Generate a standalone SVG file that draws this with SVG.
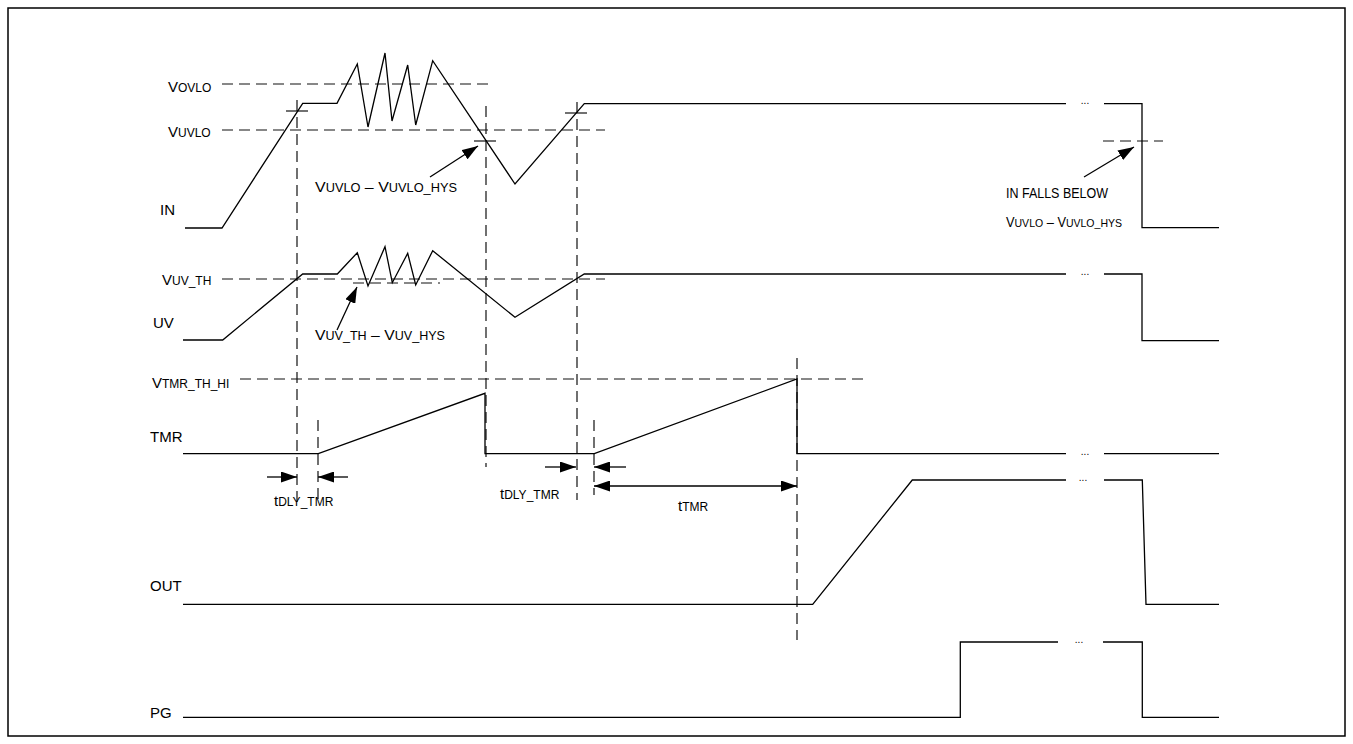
<svg xmlns="http://www.w3.org/2000/svg" width="1353" height="744" viewBox="0 0 1353 744">
<defs>
<marker id="ah" viewBox="0 0 16 11" markerUnits="userSpaceOnUse" markerWidth="16" markerHeight="11" refX="16" refY="5.5" orient="auto-start-reverse">
<path d="M0,0 L16,5.5 L0,11 z" fill="#000"/>
</marker>
</defs>
<style>
.w{fill:none;stroke:#000;stroke-width:1.3;stroke-linejoin:miter}
.d{fill:none;stroke:#111;stroke-width:1.2;stroke-dasharray:11 6}
.t{fill:none;stroke:#111;stroke-width:1.2}
.a{fill:none;stroke:#000;stroke-width:1.3;marker-end:url(#ah)}
.l{font-family:"Liberation Sans",Arial,sans-serif;font-size:15px;fill:#000}
.s{font-size:12px}
.r{font-size:14px}
.rs{font-size:11.5px}
.dots{font-family:"Liberation Sans",Arial,sans-serif;font-size:10px;fill:#000;text-anchor:middle}
</style>
<rect x="8" y="8" width="1337" height="728" fill="#fff" stroke="#000" stroke-width="1.5"/>

<g id="thresholds">
<line class="d" x1="222" y1="84" x2="492" y2="84"/>
<line class="d" x1="222" y1="130" x2="605" y2="130"/>
<line class="d" x1="222" y1="279" x2="605" y2="279"/>
<line class="d" x1="353" y1="283" x2="440" y2="283"/>
<line class="d" x1="240" y1="379" x2="868" y2="379"/>
<line class="d" x1="1103" y1="141" x2="1163" y2="141"/>
<line class="t" x1="286" y1="111" x2="308" y2="111"/>
<line class="t" x1="474" y1="141" x2="496" y2="141"/>
<line class="t" x1="565" y1="113" x2="587" y2="113"/>
</g>

<g id="markers">
<line class="d" x1="297" y1="100" x2="297" y2="502"/>
<line class="d" x1="318" y1="420" x2="318" y2="502"/>
<line class="d" x1="486" y1="106" x2="486" y2="467"/>
<line class="d" x1="577" y1="102" x2="577" y2="500"/>
<line class="d" x1="594" y1="420" x2="594" y2="495"/>
<line class="d" x1="797" y1="358" x2="797" y2="640"/>
</g>

<g id="sig-IN">
<text class="l" x="160" y="215">IN</text>
<text class="l" x="168" y="92">V<tspan class="s">OVLO</tspan></text>
<text class="l" x="168" y="137">V<tspan class="s">UVLO</tspan></text>
<polyline class="w" points="185,228 222,228 302.7,103.3 337,103.3 357.3,64 368,127 385,53 392,121 407.7,65 415.7,125 432.7,60.7 515,184 584.3,103.7 1066,103.7"/>
<text class="dots" x="1085" y="104">...</text>
<polyline class="w" points="1104,103.7 1142,103.7 1142,227.7 1219,227.7"/>
</g>

<g id="sig-UV">
<text class="l" x="153" y="328">UV</text>
<text class="l" x="162" y="285">V<tspan class="s">UV_TH</tspan></text>
<polyline class="w" points="183,340 222.7,340 302.7,274 337.3,274 357.3,252.7 368,286 385,246.7 392.3,282.7 407.7,253.3 415.7,285 432.7,250.7 515,317.3 584.3,274 1066,274"/>
<text class="dots" x="1085" y="275">...</text>
<polyline class="w" points="1104,274 1142,274 1142,340.7 1219,340.7"/>
</g>

<g id="sig-TMR">
<text class="l" x="150" y="442">TMR</text>
<text class="l" x="152" y="388">V<tspan class="s">TMR_TH_HI</tspan></text>
<polyline class="w" points="183,453.7 318.3,453.7 485,393.3 485,453.7 594.3,453.7 797,379 797,453.7 1066,453.7"/>
<text class="dots" x="1085" y="455">...</text>
<polyline class="w" points="1104,453.7 1219,453.7"/>
</g>

<g id="sig-OUT">
<text class="l" x="150" y="591">OUT</text>
<polyline class="w" points="183,604.3 812.7,604.3 912.3,480 1066,480"/>
<text class="dots" x="1083" y="481">...</text>
<polyline class="w" points="1104,480 1142.3,480 1146,604.3 1219,604.3"/>
</g>

<g id="sig-PG">
<text class="l" x="150" y="718">PG</text>
<polyline class="w" points="183,717.3 960.3,717.3 960.3,642 1058,642"/>
<text class="dots" x="1079" y="643">...</text>
<polyline class="w" points="1103,642 1142.3,642 1142.3,717.3 1219,717.3"/>
</g>

<g id="annotations">
<text class="l" x="315" y="192" textLength="142" lengthAdjust="spacingAndGlyphs">V<tspan class="s">UVLO</tspan> – V<tspan class="s">UVLO_HYS</tspan></text>
<text class="l" x="315" y="340" textLength="130" lengthAdjust="spacingAndGlyphs">V<tspan class="s">UV_TH</tspan> – V<tspan class="s">UV_HYS</tspan></text>
<text class="l r" x="1006" y="198" textLength="102" lengthAdjust="spacingAndGlyphs">IN FALLS BELOW</text>
<text class="l r" x="1006" y="227" textLength="116" lengthAdjust="spacingAndGlyphs">V<tspan class="rs">UVLO</tspan> – V<tspan class="rs">UVLO_HYS</tspan></text>
<text class="l" x="274" y="506">t<tspan class="s">DLY_TMR</tspan></text>
<text class="l" x="500" y="499">t<tspan class="s">DLY_TMR</tspan></text>
<text class="l" x="678" y="511">t<tspan class="s">TMR</tspan></text>
</g>

<g id="connectors">
<line class="a" x1="430" y1="177" x2="478" y2="146"/>
<line class="a" x1="337" y1="330" x2="357" y2="287"/>
<line class="a" x1="1084" y1="177" x2="1134" y2="147"/>
<line class="a" x1="267" y1="477" x2="297" y2="477"/>
<line class="a" x1="348" y1="477" x2="318" y2="477"/>
<line class="a" x1="545" y1="467" x2="576" y2="467"/>
<line class="a" x1="626" y1="467" x2="594" y2="467"/>
<line class="a" x1="594" y1="486" x2="797" y2="486" style="marker-start:url(#ah)"/>
</g>
</svg>
